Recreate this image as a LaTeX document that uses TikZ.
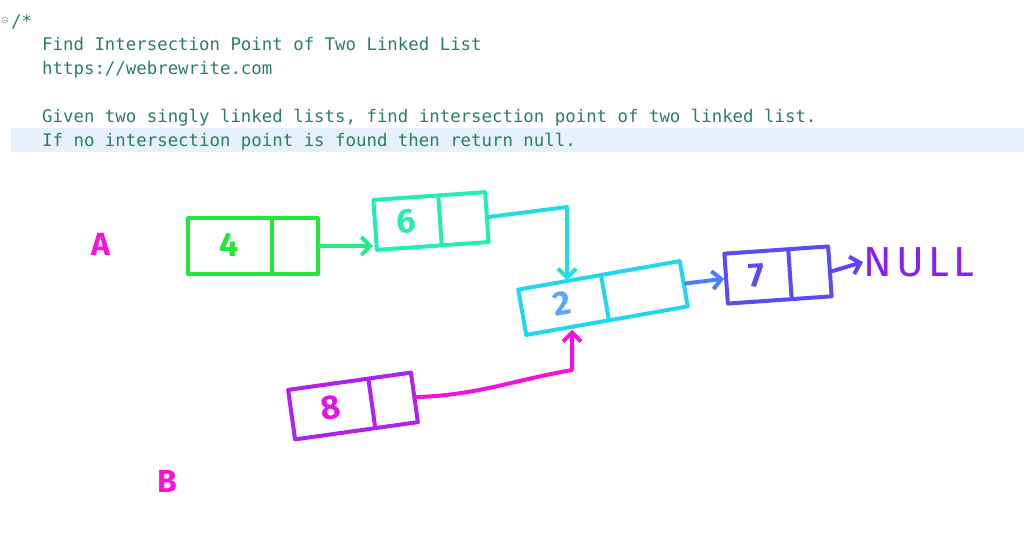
\documentclass[tikz,border=0pt]{standalone}
\usepackage{fontspec}
\setmonofont{DejaVu Sans Mono}
\setsansfont{Fira Sans}
\usetikzlibrary{positioning,arrows.meta,shapes.multipart,calc}

\definecolor{comment}{HTML}{2A7F5C}
\definecolor{hilite}{HTML}{E6F1FD}
\definecolor{cfour}{HTML}{22E83C}
\definecolor{csix}{HTML}{22EEB4}
\definecolor{ctwo}{HTML}{22D6F2}
\definecolor{cseven}{HTML}{5A4CF0}
\definecolor{ceight}{HTML}{B020F0}
\definecolor{cpink}{HTML}{FF10D8}
\definecolor{cnull}{HTML}{8A20F0}

% one cell of a list node: width, height, contents
\newcommand{\cell}[3]{\makebox[#1]{\rule[-\dimexpr#2/2-10pt\relax]{0pt}{#2}#3}}

\begin{document}
\begin{tikzpicture}[x=1pt,y=-1pt,
  listnode/.style={draw, line width=4pt, line join=round, rectangle split,
    rectangle split horizontal, rectangle split parts=2, inner sep=0pt,
    font=\sffamily\fontsize{34}{34}\selectfont\bfseries},
  link/.style={line width=4pt, line cap=round, line join=round,
    -{Straight Barb[length=9pt,width=18pt,line width=4pt]}},
  comm/.style={anchor=base west, inner sep=0pt, text=comment,
    font=\ttfamily\fontsize{17.38}{17.38}\selectfont},
  hand/.style={font=\sffamily\bfseries\fontsize{#1}{#1}\selectfont, inner sep=0pt}]
\useasboundingbox (0,0) rectangle (1024,550);

% editor comment
\fill[hilite] (11,128) rectangle (1024,152);
\draw[gray!70, line width=0.6pt] (5,20) circle (3);
\draw[gray!70, line width=0.6pt] (3.5,20) -- (6.5,20);
\node[comm] (open) at (11,27) {/*};
\node[comm] (title) at (42,50) {Find Intersection Point of Two Linked List};
\node[comm] (url) at (42,74) {https://webrewrite.com};
\node[comm] (given) at (42,122) {Given two singly linked lists, find intersection point of two linked list.};
\node[comm] (ifno) at (42,146) {If no intersection point is found then return null.};

% list labels
\node[hand=32, text=cpink] (la) at (101,244) {A};
\node[hand=32, text=cpink] (lb) at (167,481) {B};

% list nodes
\node[listnode, draw=cfour, text=cfour] (n4) at (253,246)
  {\cell{82pt}{56pt}{4}\nodepart{two}\cell{44pt}{56pt}{}};
\node[listnode, draw=csix, text=csix, rotate=4] (n6) at (431,221)
  {\cell{63pt}{50pt}{6}\nodepart{two}\cell{45pt}{50pt}{}};
\node[listnode, draw=ctwo, text=ctwo!60!blue!70, rotate=10] (n2) at (603,298)
  {\cell{82pt}{46pt}{2}\nodepart{two}\cell{78pt}{46pt}{}};
\node[listnode, draw=cseven, text=cseven, rotate=4] (n7) at (778,275)
  {\cell{62pt}{50pt}{7}\nodepart{two}\cell{38pt}{50pt}{}};
\node[listnode, draw=ceight, text=ceight!40!cpink, rotate=8] (n8) at (353,406)
  {\cell{79pt}{50pt}{8}\nodepart{two}\cell{41pt}{50pt}{}};
\node[inner sep=0pt, text=cnull, anchor=west,
  font=\sffamily\fontsize{42}{42}\selectfont\addfontfeature{LetterSpace=10}] (null) at (863,262) {NULL};

% links
\coordinate (bend62) at (567,207);
\coordinate (bend82) at (572,370);
\draw[link, draw=csix!60!cfour] (n4.east) -- (n4.east -| n6.west);
\draw[link, draw=ctwo!70!csix] (n6.east) -- (bend62) -- (n2.one north -| bend62);
\draw[link, draw=ctwo!40!blue!75] (n2.east) -- (n7.west);
\draw[link, draw=cseven!80!cnull] (n7.east) -- (null.west);
\draw[link, draw=cpink!85!ceight] (n8.east) to[out=2, in=190] (bend82) -- (n2.one south -| bend82);
\end{tikzpicture}
\end{document}
